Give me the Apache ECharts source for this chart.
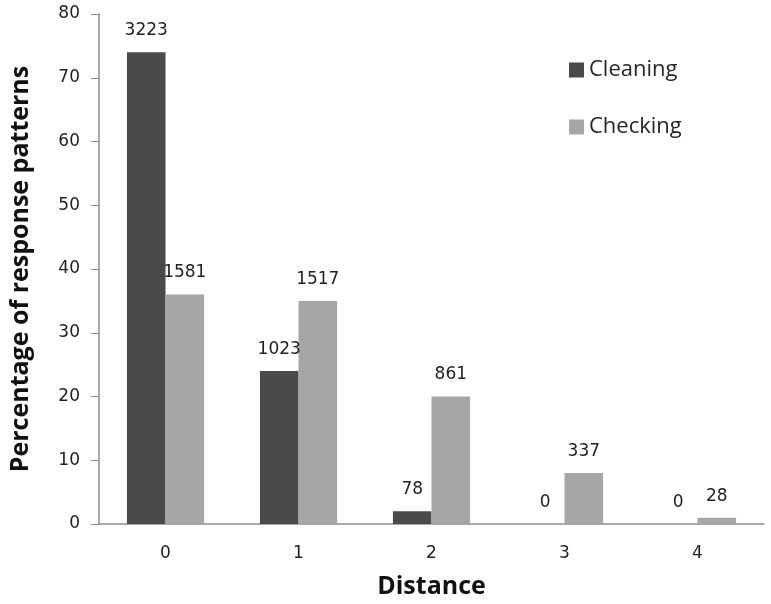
<!DOCTYPE html>
<html>
<head>
<meta charset="utf-8">
<script src="https://cdn.jsdelivr.net/npm/echarts@6/dist/echarts.min.js"></script>
<style>
  html, body { margin: 0; padding: 0; background: #fff; }
  #chart { width: 771px; height: 604px; }
</style>
</head>
<body>
<div id="chart"></div>
<script>
var distances = ['0', '1', '2', '3', '4'];
var cleaningPct = [74, 24, 2, 0, 0];
var checkingPct = [36, 35, 20, 8, 1];
var cleaningCounts = [3223, 1023, 78, 0, 0];
var checkingCounts = [1581, 1517, 861, 337, 28];

function countLabel(counts) {
    return {
        show: true,
        position: 'top',
        distance: 13,
        fontFamily: 'DejaVu Sans',
        fontSize: 17,
        color: '#222',
        formatter: function (p) { return counts[p.dataIndex]; }
    };
}

var myEcharts = echarts.init(document.getElementById('chart'));
var option = {
    backgroundColor: '#fff',
    animation: false,
    legend: {
        orient: 'vertical',
        left: 564,
        top: 54,
        itemWidth: 15,
        itemHeight: 15,
        itemGap: 35,
        icon: 'rect',
        textStyle: { fontFamily: 'Open Sans', fontSize: 22, color: '#262626', lineHeight: 22 },
        data: ['Cleaning', 'Checking']
    },
    grid: {
        left: 97,
        right: 7,
        top: 14,
        bottom: 77
    },
    xAxis: {
        type: 'category',
        data: distances,
        name: 'Distance',
        nameLocation: 'middle',
        nameGap: 50,
        nameTextStyle: { fontFamily: 'Open Sans', fontWeight: 'bold', fontSize: 25, color: '#111' },
        axisLine: { lineStyle: { color: '#8c8c8c', width: 1.5 } },
        axisTick: { show: false },
        axisLabel: { fontFamily: 'DejaVu Sans', fontSize: 17, color: '#222', margin: 21 }
    },
    yAxis: {
        type: 'value',
        min: 0,
        max: 80,
        interval: 10,
        name: 'Percentage of response patterns',
        nameLocation: 'middle',
        nameGap: 66,
        nameTextStyle: { fontFamily: 'Open Sans', fontWeight: 'bold', fontSize: 25, color: '#111' },
        axisLine: { show: true, lineStyle: { color: '#8c8c8c', width: 1.5 } },
        axisTick: { show: true, length: 8, lineStyle: { color: '#8c8c8c' } },
        splitLine: { show: false },
        axisLabel: { fontFamily: 'DejaVu Sans', fontSize: 17, color: '#222', margin: 19 }
    },
    series: [
        {
            name: 'Cleaning',
            type: 'bar',
            data: cleaningPct,
            barGap: '0%',
            barCategoryGap: '42%',
            itemStyle: { color: '#4a4a4a' },
            label: countLabel(cleaningCounts)
        },
        {
            name: 'Checking',
            type: 'bar',
            data: checkingPct,
            itemStyle: { color: '#a6a6a6' },
            label: countLabel(checkingCounts)
        }
    ]
};
myEcharts.setOption(option);
</script>
</body>
</html>
